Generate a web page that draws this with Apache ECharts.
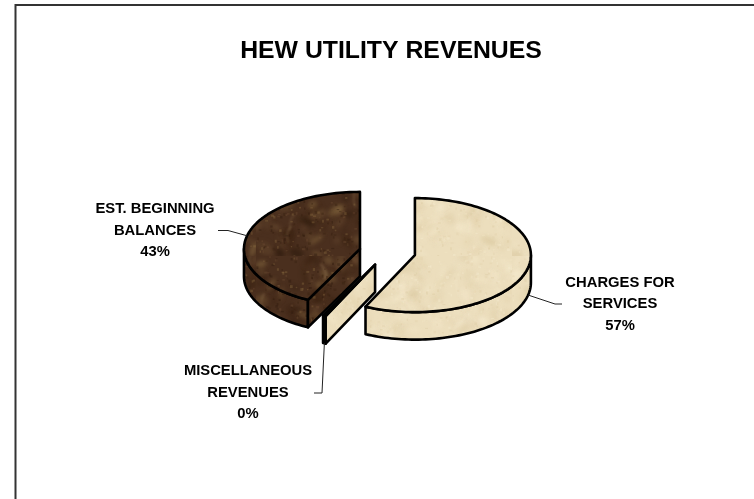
<!DOCTYPE html>
<html>
<head>
<meta charset="utf-8">
<style>html,body{margin:0;padding:0;background:#fff}#c{width:754px;height:499px}</style>
<script src="https://cdn.jsdelivr.net/npm/echarts@6/dist/echarts.min.js"></script>
</head>
<body>
<div id="c"></div>
<script>
// ---- data ----
var chartTitle = 'HEW UTILITY REVENUES';
var categories = ['CHARGES FOR\nSERVICES', 'MISCELLANEOUS\nREVENUES', 'EST. BEGINNING\nBALANCES'];
var seriesValues = [57, 0.4, 42.6];

// ---- layout / style ----
var PIE = {cx: 387.4, cy: 252.1, rx: 116, ry: 57, depth: 27.5, explode: 0.243};
var labelCentres = [[620, 282.5], [248, 371], [155, 209]];
var leaderElbows = [[[555, 304], [562, 304]], [[322, 393], [314, 393]], [[228, 230.5], [218, 230.5]]];
var LIGHT = {base: '#ecdebd', blobs: ['#f6ebcf', '#e3d2ac', '#f2e5c6', '#dccaa2'], veins: 'rgba(248,238,212,0.35)'};
var DARK = {base: '#4a2f1e', blobs: ['#38200f', '#6b4c32', '#2c190c', '#86683f'], veins: 'rgba(150,120,85,0.4)'};
var sliceStyles = [LIGHT, LIGHT, DARK];

// Seeded marble texture (decorative only)
function texture(spec, seed) {
  var s = seed, cv = document.createElement('canvas');
  function rnd() { s = (s * 16807) % 2147483647; return s / 2147483647; }
  cv.width = cv.height = 256;
  var g = cv.getContext('2d');
  g.fillStyle = spec.base; g.fillRect(0, 0, 256, 256);
  g.filter = 'blur(2px)';
  for (var i = 0; i < 520; i++) {
    g.fillStyle = spec.blobs[i % spec.blobs.length];
    g.globalAlpha = 0.25 + rnd() * 0.4;
    g.beginPath();
    g.ellipse(rnd() * 256, rnd() * 256, 2 + rnd() * 8, 1 + rnd() * 4, rnd() * 3.14, 0, 6.283);
    g.fill();
  }
  // short pale veins
  g.filter = 'blur(1.2px)';
  g.globalAlpha = 1;
  g.strokeStyle = spec.veins;
  for (var v = 0; v < 40; v++) {
    var x = rnd() * 256, y = rnd() * 256, dir = rnd() * 6.283;
    g.lineWidth = 0.8 + rnd() * 1.6;
    g.beginPath(); g.moveTo(x, y);
    for (var k = 0; k < 3; k++) {
      dir += (rnd() - 0.5) * 1.6;
      x += Math.cos(dir) * 6; y += Math.sin(dir) * 6;
      g.lineTo(x, y);
    }
    g.stroke();
  }
  g.filter = 'blur(0.6px)';
  for (var j = 0; j < 1400; j++) {
    g.fillStyle = spec.blobs[j % spec.blobs.length];
    g.globalAlpha = 0.4;
    g.fillRect(rnd() * 256, rnd() * 256, 1 + rnd() * 2, 1 + rnd() * 2);
  }
  return {image: cv, repeat: 'repeat'};
}
var fills = {};
fills[LIGHT.base] = texture(LIGHT, 12345);
fills[DARK.base] = texture(DARK, 98765);

var total = seriesValues.reduce(function (a, b) { return a + b; }, 0);
var startAngles = [], acc = 0;
seriesValues.forEach(function (v) { startAngles.push(acc / total * 2 * Math.PI); acc += v; });

// Draw order: back-left slice first, then thin wedge, then the large slice
var drawOrder = [2, 1, 0];

function rim(c, a, dz) { return [c[0] + Math.sin(a) * PIE.rx, c[1] - Math.cos(a) * PIE.ry + (dz || 0)]; }
function arcPts(c, a0, a1, dz) {
  var n = Math.max(2, Math.ceil(Math.abs(a1 - a0) / 0.03)), p = [];
  for (var i = 0; i <= n; i++) p.push(rim(c, a0 + (a1 - a0) * i / n, dz));
  return p;
}

function renderItem(params, api) {
  var idx = api.value(0);
  var a0 = startAngles[idx];
  var a1 = a0 + api.value(1) / total * 2 * Math.PI;
  var mid = (a0 + a1) / 2;
  var c = [PIE.cx + Math.sin(mid) * PIE.rx * PIE.explode, PIE.cy - Math.cos(mid) * PIE.ry * PIE.explode];
  var st = sliceStyles[idx], fill = fills[st.base];
  var line = {stroke: '#000', lineWidth: 2.6, lineJoin: 'round', fill: fill};
  var children = [];
  function poly(pts) {
    children.push({type: 'polygon', shape: {points: pts}, style: line});
  }
  // outer front wall (visible between 90° and 270°)
  var f0 = Math.max(a0, Math.PI / 2), f1 = Math.min(a1, Math.PI * 1.5);
  if (f1 > f0) {
    poly(arcPts(c, f0, f1, 0).concat(arcPts(c, f1, f0, PIE.depth)));
  }
  // radial cut wall at the start angle, facing the viewer for angles past 180°
  if (a0 > Math.PI && a0 < 2 * Math.PI) {
    var o = rim(c, a0);
    poly([c, o, [o[0], o[1] + PIE.depth], [c[0], c[1] + PIE.depth]]);
  }
  // top face
  poly([c].concat(arcPts(c, a0, a1, 0)));

  // leader line
  var front = Math.cos(mid) < 0;
  var start = rim(c, mid, front ? PIE.depth : 0);
  children.push({
    type: 'polyline',
    shape: {points: [start].concat(leaderElbows[idx])},
    style: {stroke: '#222', lineWidth: 1, fill: null}
  });
  // label
  var pct = Math.round(api.value(1) / total * 100) + '%';
  var lp = labelCentres[idx];
  children.push({
    type: 'text',
    style: {
      x: lp[0], y: lp[1],
      text: categories[idx] + '\n' + pct,
      align: 'center', verticalAlign: 'middle',
      font: 'bold 14.8px "Liberation Sans", Arial, sans-serif',
      lineHeight: 21.5,
      fill: '#000'
    },
    // y marks the first line's centre
    y: 21.5
  });
  return {type: 'group', children: children};
}

var seriesData = drawOrder.map(function (i) {
  return {name: categories[i], value: [i, seriesValues[i]]};
});

var chart = echarts.init(document.getElementById('c'), null, {renderer: 'canvas'});
chart.setOption({
  animation: false,
  backgroundColor: '#fff',
  title: {
    text: chartTitle,
    left: 386, top: 33.5,
    textAlign: 'center',
    textStyle: {fontFamily: '"Liberation Sans", Arial, sans-serif', fontWeight: 'bold', fontSize: 24.8, color: '#000'}
  },
  graphic: [{
    type: 'polyline', silent: true,
    shape: {points: [[15.5, 499], [15.5, 5], [754, 5]]},
    style: {stroke: '#333', lineWidth: 2, fill: null}
  }],
  series: [{
    type: 'custom',
    coordinateSystem: 'none',
    renderItem: renderItem,
    encode: {value: 1},
    data: seriesData
  }]
});
</script>
</body>
</html>
